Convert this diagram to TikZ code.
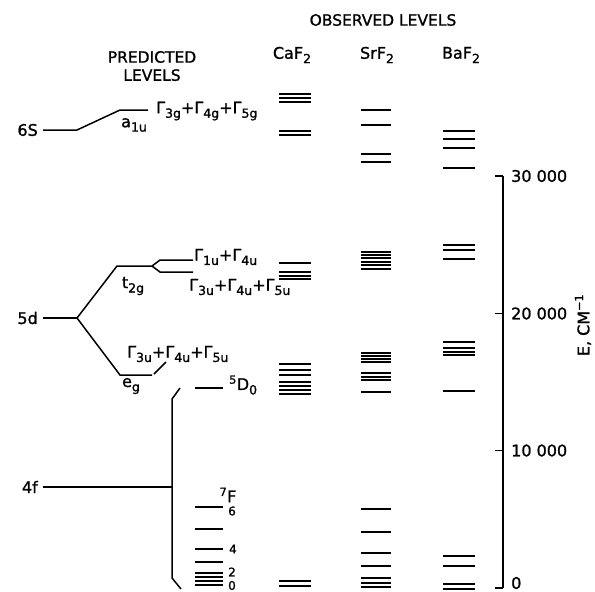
\documentclass[tikz,border=0pt]{standalone}
\usepackage{fontspec}
\setmainfont{DejaVu Sans}[FakeBold=1.2]
\usetikzlibrary{positioning}

\newcommand{\sub}[2]{#1\raisebox{-0.5ex}{\fontsize{12.5}{13}\selectfont #2}}
\newcommand{\Gm}[1]{\sub{Γ}{#1}}

\tikzset{
    lvl/.style={line width=1.6pt},
    pred/.style={line width=1.5pt},
    lbl/.style={inner sep=0pt, font=\fontsize{16}{18}\selectfont},
    head/.style={inner sep=0pt, font=\fontsize{15.5}{17}\selectfont},
    jlbl/.style={inner sep=0pt, font=\fontsize{12}{13}\selectfont},
}

\begin{document}
\begin{tikzpicture}[x=1pt, y=-1pt]
    \useasboundingbox (0,0) rectangle (595,592);

    \node[head] (obs) at (383,20) {OBSERVED LEVELS};
    \node[head] (prd) at (152,57) {PREDICTED};
    \node[head] (prdl) [below=6pt of prd] {LEVELS};
    \node[lbl] (ca) at (292,55) {Ca\sub{F}{2}};
    \node[lbl] (sr) at (377,55) {Sr\sub{F}{2}};
    \node[lbl] (ba) at (461,55) {Ba\sub{F}{2}};

    \coordinate (s0) at (43,130);
    \coordinate (s1) at (77,130);
    \coordinate (s2) at (120,110);
    \coordinate (s3) at (148,110);
    \node[lbl] (sixS) [left=5pt of s0] {6S};
    \draw[pred] (s0) -- (s1) -- (s2) -- (s3);
    \node[lbl] (a1u) at (134,125) {a\sub{}{1u}};
    \node[lbl, anchor=west] (g3g) at (156,111) {\Gm{3g}+\Gm{4g}+\Gm{5g}};

    \coordinate (d0) at (43,318);
    \coordinate (d1) at (77,318);
    \coordinate (t0) at (117,266);
    \coordinate (t1) at (152,266);
    \coordinate (tu) at (160,260);
    \coordinate (tue) at (193,260);
    \coordinate (tl) at (160,272);
    \coordinate (tle) at (193,272);
    \coordinate (e0) at (120,375);
    \coordinate (e1) at (152,375);
    \coordinate (ec) at (166,362);
    \node[lbl] (fived) [left=5pt of d0] {5d};
    \draw[pred] (d0) -- (d1);
    \draw[pred] (d1) -- (t0) -- (t1) -- (tu) -- (tue);
    \draw[pred] (t1) -- (tl) -- (tle);
    \draw[pred] (d1) -- (e0) -- (e1);
    \draw[pred] (e1) ++(2,-1) -- (ec);
    \node[lbl] (t2g) at (133,286) {t\sub{}{2g}};
    \node[lbl] (eg) at (131,386) {e\sub{}{g}};
    \node[lbl, anchor=west] (g1u) at (194,257) {\Gm{1u}+\Gm{4u}};
    \node[lbl, anchor=west] (g3uA) at (189,287) {\Gm{3u}+\Gm{4u}+\Gm{5u}};
    \node[lbl, anchor=west] (g3uB) at (127,354) {\Gm{3u}+\Gm{4u}+\Gm{5u}};

    \coordinate (f0) at (43,487);
    \coordinate (f1) at (172,487);
    \coordinate (b0) at (180,388);
    \coordinate (b1) at (172,399);
    \coordinate (b2) at (172,578);
    \coordinate (b3) at (181,589);
    \node[lbl] (fourf) [left=5pt of f0] {4f};
    \draw[pred] (f0) -- (f1);
    \draw[pred] (b0) -- (b1) -- (b2) -- (b3);

    \draw[lvl] (195,388) -- (223,388);
    \node[lbl, anchor=west] (dzero) at (229,385) {\textsuperscript{5}\sub{D}{0}};
    \foreach \y in {507,529,549,562,573,577,581,585}
        \draw[lvl] (195,\y) -- (223,\y);
    \node[lbl] (sevF) at (228,495) {\textsuperscript{7}F};
    \node[jlbl] (j6) at (232,511) {6};
    \node[jlbl] (j4) at (233,549) {4};
    \node[jlbl] (j2) at (232,572) {2};
    \node[jlbl] (j0) at (232,585.5) {0};

    \foreach \y in {94,98,102,131,135,263,272,276,279,364,370,375,382,386,390,394,581,586}
        \draw[lvl] (279,\y) -- (311,\y);
    \foreach \y in {110,125,154,162,252,255,258,262,265,269,353,356,359,362,373,377,380,392,509,532,553,566,578,583,587}
        \draw[lvl] (361,\y) -- (391,\y);
    \foreach \y in {131,139,148,168,245,250,259,342,348,352,355,391,556,566,584,589}
        \draw[lvl] (443,\y) -- (475,\y);

    \coordinate (ax0) at (503,176);
    \coordinate (ax1) at (503,588);
    \draw[line width=1.5pt] (ax0) -- (ax1);
    \foreach \y/\t in {176/30 000, 313.5/20 000, 450.5/10 000} {
        \draw[line width=1.5pt] (495,\y) -- (503,\y);
        \node[lbl, anchor=west] at (511,\y) {\t};
    }
    \draw[line width=1.5pt] (495,588) -- (503,588);
    \node[lbl, anchor=west] (zero) at (511,583) {0};
    \node[lbl, rotate=90] (eaxis) at (583,325) {E, CM\textsuperscript{−1}};
\end{tikzpicture}
\end{document}
